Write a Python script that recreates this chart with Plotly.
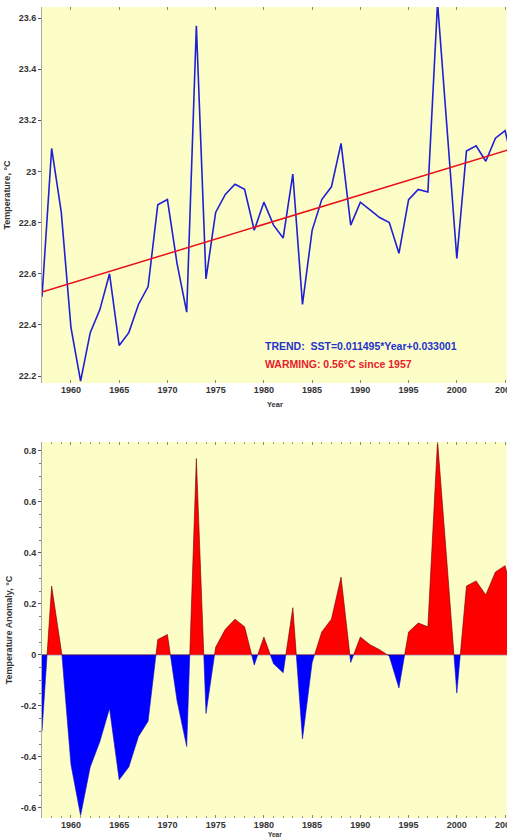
import plotly.graph_objects as go
from plotly.subplots import make_subplots

years = list(range(1957, 2007))
sst = [22.51, 23.09, 22.84, 22.39, 22.18, 22.37, 22.46, 22.60, 22.32, 22.37,
       22.48, 22.55, 22.87, 22.89, 22.64, 22.45, 23.57, 22.58, 22.84, 22.91,
       22.95, 22.93, 22.77, 22.88, 22.79, 22.74, 22.99, 22.48, 22.77, 22.89,
       22.94, 23.11, 22.79, 22.88, 22.85, 22.82, 22.80, 22.68, 22.89, 22.93,
       22.92, 23.66, 23.16, 22.66, 23.08, 23.10, 23.04, 23.13, 23.16, 23.00]
anomaly = [-0.30, 0.27, 0.03, -0.43, -0.63, -0.44, -0.34, -0.21, -0.49, -0.44,
           -0.32, -0.26, 0.06, 0.08, -0.18, -0.36, 0.77, -0.23, 0.03, 0.10,
           0.14, 0.11, -0.04, 0.07, -0.035, -0.07, 0.185, -0.33, -0.03, 0.09,
           0.14, 0.305, -0.03, 0.07, 0.04, 0.02, -0.005, -0.13, 0.09, 0.125,
           0.11, 0.84, 0.35, -0.15, 0.27, 0.29, 0.235, 0.325, 0.35, 0.20]

trend_slope = 0.011495
trend_icept = 0.033001
trend_years = [1957, 2006]

x_tick_vals = [1960, 1965, 1970, 1975, 1980, 1985, 1990, 1995, 2000, 2005]
x_tick_text = ["1960", "1965", "1970", "1975", "1980", "1985", "1990", "1995", "2000", "2005"]
sst_tick_vals = [22.2, 22.4, 22.6, 22.8, 23.0, 23.2, 23.4, 23.6]
sst_tick_text = ["22.2", "22.4", "22.6", "22.8", "23", "23.2", "23.4", "23.6"]
an_tick_vals = [-0.6, -0.4, -0.2, 0, 0.2, 0.4, 0.6, 0.8]
an_tick_text = ["-0.6", "-0.4", "-0.2", "0", "0.2", "0.4", "0.6", "0.8"]

trend_text = "TREND:  SST=0.011495*Year+0.033001"
warm_text = "WARMING: 0.56°C since 1957"

BG = "#FDFDC8"
FONT = "Liberation Sans, Arial, sans-serif"

def bold(lst):
    return ["<b>" + s + "</b>" for s in lst]

# split anomaly path at zero crossings so each sign gets its own fill
px, py = [], []
for i in range(len(years)):
    if i > 0:
        y0, y1 = anomaly[i - 1], anomaly[i]
        if y0 * y1 < 0:
            t = y0 / (y0 - y1)
            px.append(years[i - 1] + t * (years[i] - years[i - 1]))
            py.append(0.0)
    px.append(years[i])
    py.append(anomaly[i])
pos = [max(v, 0) for v in py]
neg = [min(v, 0) for v in py]

fig = make_subplots(rows=2, cols=1, vertical_spacing=0.0)

fig.add_trace(go.Scatter(x=years, y=sst, mode="lines",
                         line=dict(color="#1f1fd6", width=1.6),
                         showlegend=False), row=1, col=1)
fig.add_trace(go.Scatter(x=trend_years,
                         y=[trend_slope * yr + trend_icept for yr in trend_years],
                         mode="lines", line=dict(color="#e8101a", width=1.5),
                         showlegend=False), row=1, col=1)

fig.add_trace(go.Scatter(x=px, y=neg, mode="lines", fill="tozeroy",
                         fillcolor="#0000ff", line=dict(color="#1010c0", width=0.6),
                         showlegend=False), row=2, col=1)
fig.add_trace(go.Scatter(x=px, y=pos, mode="lines", fill="tozeroy",
                         fillcolor="#ff0000", line=dict(color="#6a0000", width=0.6),
                         showlegend=False), row=2, col=1)

tickfont = dict(family=FONT, size=9, color="#333333")
titlefont = dict(family=FONT, size=9, color="#333333")
xcommon = dict(range=[1957, 2005.2], tickvals=x_tick_vals, ticktext=bold(x_tick_text),
               ticks="inside", ticklen=3, tickcolor="#888888", mirror="ticks",
               showgrid=False, zeroline=False, tickfont=tickfont,
               ticklabeloverflow="allow", automargin=False, showline=False)
fig.update_xaxes(**xcommon, row=1, col=1)
fig.update_xaxes(**xcommon, row=2, col=1,
                 minor=dict(dtick=1, ticks="inside", ticklen=2, tickcolor="#999999"))

fig.update_yaxes(range=[22.173, 23.643], tickvals=sst_tick_vals, ticktext=bold(sst_tick_text),
                 ticks="outside", ticklen=3, tickcolor="#555555", mirror="ticks",
                 showline=True, linecolor="#a8a8a8", linewidth=1, automargin=False,
                 showgrid=False, zeroline=False, tickfont=tickfont,
                 title=dict(text="<b>Temperature, °C</b>", standoff=6, font=titlefont),
                 row=1, col=1)
fig.update_yaxes(range=[-0.64, 0.835], tickvals=an_tick_vals, ticktext=bold(an_tick_text),
                 ticks="outside", ticklen=3, tickcolor="#555555", mirror="ticks",
                 showline=True, linecolor="#a8a8a8", linewidth=1, automargin=False,
                 minor=dict(dtick=0.05, ticks="outside", ticklen=2, tickcolor="#777777"),
                 showgrid=False, zeroline=False, tickfont=tickfont,
                 title=dict(text="<b>Temperature Anomaly, °C</b>", standoff=6, font=titlefont),
                 row=2, col=1)

H = 837
ml, mt, mb = 42, 7, 19
ph = H - mt - mb
def py_frac(pix):
    return (H - mb - pix) / ph

fig.update_layout(
    width=507, height=837,
    margin=dict(l=ml, r=0, t=mt, b=mb),
    paper_bgcolor="white", plot_bgcolor=BG,
    font=dict(family=FONT, color="#333333"),
    xaxis=dict(domain=[0, 1]),
    yaxis=dict(domain=[py_frac(383), 1.0]),
    xaxis2=dict(domain=[0, 1]),
    yaxis2=dict(domain=[0.0, py_frac(442)]),
)

fig.add_annotation(x=1979.9, y=22.316, xref="x", yref="y", text="<b>" + trend_text + "</b>",
                   showarrow=False, xanchor="left", yanchor="middle",
                   font=dict(family=FONT, size=10.5, color="#2233cc"))
fig.add_annotation(x=1979.9, y=22.246, xref="x", yref="y", text="<b>" + warm_text + "</b>",
                   showarrow=False, xanchor="left", yanchor="middle",
                   font=dict(family=FONT, size=10.5, color="#e8202a"))
fig.add_annotation(x=0.5, y=py_frac(404), xref="paper", yref="paper", text="<b>Year</b>",
                   showarrow=False, xanchor="center", yanchor="middle",
                   font=dict(family=FONT, size=7.5, color="#333333"))
fig.add_annotation(x=0.5, y=py_frac(834.5), xref="paper", yref="paper", text="<b>Year</b>",
                   showarrow=False, xanchor="center", yanchor="middle",
                   font=dict(family=FONT, size=6.5, color="#333333"))

fig.write_html("out.html")
